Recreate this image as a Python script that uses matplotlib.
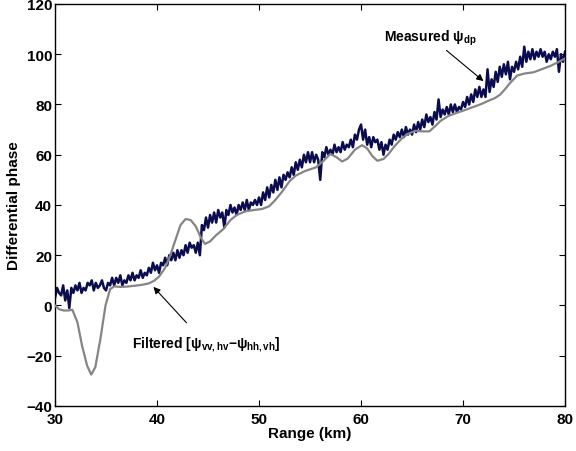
import numpy as np
import matplotlib
matplotlib.use("Agg")
import matplotlib.pyplot as plt

plt.rcParams['font.family'] = ['Liberation Sans', 'DejaVu Sans']
plt.rcParams['font.weight'] = 'bold'
plt.rcParams['mathtext.fontset'] = 'custom'
plt.rcParams['mathtext.rm'] = 'Liberation Sans:bold'
plt.rcParams['mathtext.bf'] = 'Liberation Sans:bold'
plt.rcParams['mathtext.it'] = 'Liberation Sans:bold'
plt.rcParams['axes.unicode_minus'] = True

# Measured differential phase, sampled every 0.2 km from 30 to 80 km
measured = [
    3, 7, 5, 4, 8,
    2, 6, -1, 7, 5,
    8, 6, 9, 5, 7,
    6, 9, 8, 10, 6,
    9, 7, 8, 10, 7,
    6, 9, 8, 11, 8,
    11, 9, 12, 8, 10,
    9, 12, 10, 13, 10,
    12, 11, 14, 11, 13,
    12, 15, 13, 17, 14,
    16, 13, 17, 16, 19,
    16, 20, 18, 21, 18,
    22, 19, 22, 20, 24,
    21, 25, 23, 24, 21,
    25, 20, 32, 30, 35,
    31, 36, 33, 37, 33,
    38, 35, 37, 31, 38,
    36, 40, 37, 39, 36,
    40, 38, 41, 38, 42,
    38, 41, 40, 42, 40,
    43, 40, 45, 42, 47,
    43, 48, 45, 50, 46,
    51, 47, 52, 50, 53,
    51, 55, 52, 57, 54,
    58, 55, 60, 57, 61,
    57, 61, 57, 60, 58,
    50, 61, 59, 63, 60,
    62, 60, 64, 61, 63,
    61, 65, 62, 64, 63,
    66, 63, 68, 66, 70,
    72, 66, 70, 64, 67,
    63, 67, 65, 66, 62,
    65, 60, 64, 62, 66,
    64, 68, 66, 69, 67,
    70, 67, 71, 68, 70,
    68, 72, 69, 73, 70,
    74, 71, 76, 73, 75,
    72, 77, 74, 82, 75,
    78, 76, 79, 76, 80,
    77, 80, 77, 79, 78,
    81, 79, 83, 80, 84,
    81, 86, 83, 87, 83,
    86, 83, 94, 85, 90,
    87, 93, 89, 95, 91,
    96, 92, 97, 90, 95,
    93, 97, 94, 99, 95,
    103, 97, 101, 98, 102,
    98, 101, 99, 102, 99,
    101, 97, 100, 98, 101,
    99, 102, 93, 100, 97,
    101,
]

# Filtered differential phase
filt_range = [30.0, 30.4, 30.85, 31.3, 31.7, 32.2, 32.65, 33.15, 33.55, 33.95,
              34.45, 34.95, 35.4, 35.8, 36.4, 37.0, 37.7, 38.5, 39.2, 39.7,
              40.2, 40.8, 41.3, 41.8, 42.3, 42.8, 43.3, 43.8, 44.3, 44.7,
              45.2, 45.8, 46.5, 47.2, 47.8, 48.7, 49.5, 50.3, 51.0, 51.6,
              52.3, 53.0, 53.6, 54.5, 55.6, 56.3, 57.0, 57.6, 58.15, 58.7,
              59.4, 60.1, 60.6, 61.1, 61.6, 62.2, 62.7, 63.3, 64.0, 64.6,
              65.3, 66.0, 66.7, 67.3, 67.8, 68.6, 69.4, 70.2, 71.0, 71.8,
              72.5, 73.1, 73.6, 74.1, 74.6, 75.3, 76.0, 76.9, 77.7, 78.6,
              79.3, 80.0]
filt_phase = [0, -1.5, -2, -2, -1.7, -6.7, -16, -24, -27.5, -24.6,
              -13.3, 0, 6.5, 7.6, 7.4, 7.5, 7.8, 8.2, 8.8, 9.8,
              11.5, 15, 20, 26, 32, 34.4, 34, 31.5, 27, 24.5,
              25.5, 28, 30.4, 34, 36, 37.5, 38, 38.4, 39.5, 42,
              45.5, 49.5, 51.7, 53.5, 55, 57.5, 60.3, 59, 57.3, 58.5,
              62, 63.8, 62.5, 59.5, 57.6, 58.3, 60.3, 63.5, 66.5, 68.3,
              69.5, 69.3, 69.3, 71.5, 73.5, 75.5, 76.7, 77.8, 79, 80.2,
              81.5, 82.5, 83.8, 86, 88.5, 91.5, 92.3, 92.8, 94, 95.4,
              96.8, 98.3]

x_ticks = [30, 40, 50, 60, 70, 80]
y_ticks = [-40, -20, 0, 20, 40, 60, 80, 100, 120]

meas_range = np.linspace(30, 80, len(measured))

fig = plt.figure(figsize=(5.76, 4.52), dpi=100)
ax = fig.add_axes([0.0955, 0.0996, 0.8855, 0.8894])

ax.plot(meas_range, measured, color='#0b0b4f', lw=1.8, zorder=2)
ax.plot(filt_range, filt_phase, color='#858585', lw=1.6, zorder=3)

ax.set_xlim(30, 80)
ax.set_ylim(-40, 120)
ax.set_xticks(x_ticks)
ax.set_yticks(y_ticks)
ax.tick_params(direction='in', top=True, right=True, length=4, width=0.8,
               labelsize=11, pad=2)
ax.tick_params(axis='x', pad=4)
for lab in ax.get_xticklabels() + ax.get_yticklabels():
    lab.set_fontweight('bold')
for s in ax.spines.values():
    s.set_linewidth(1.0)

ax.set_xlabel('Range (km)', fontsize=11, fontweight='bold', labelpad=0)
ax.set_ylabel('Differential phase', fontsize=11, fontweight='bold', labelpad=4)

ax.annotate(r'Measured $\psi_{\mathbf{dp}}$', xy=(72.0, 89.3), xytext=(66.8, 103.0),
            fontsize=10, fontweight='bold', ha='center', va='bottom',
            arrowprops=dict(arrowstyle='-|>', color='black', lw=0.8,
                            mutation_scale=10, shrinkA=1, shrinkB=0))
ax.annotate(r'Filtered [$\psi_{\mathbf{vv,hv}}$$-$$\psi_{\mathbf{hh,vh}}$]',
            xy=(39.65, 7.4), xytext=(44.8, -15.3),
            fontsize=10, fontweight='bold', ha='center', va='center',
            arrowprops=dict(arrowstyle='-|>', color='black', lw=0.8,
                            mutation_scale=10, shrinkA=9, shrinkB=0))

fig.savefig('out.png', dpi=100)
